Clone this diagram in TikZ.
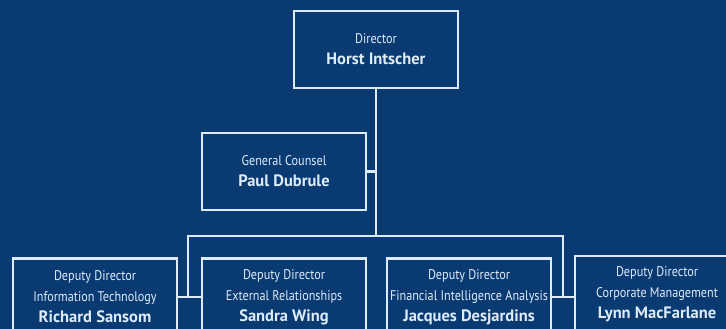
\documentclass[tikz,border=0pt]{standalone}
\usepackage{fontspec}
\setmainfont{PT Sans}
\usetikzlibrary{positioning, calc}
\definecolor{chartblue}{RGB}{10, 58, 114}
\definecolor{chartline}{RGB}{222, 236, 250}

\begin{document}
\begin{tikzpicture}[x=1pt, y=-1pt]
            \tikzstyle{post} = [rectangle, draw=chartline, line width=2.6pt, fill=chartblue, text=chartline, minimum width=164pt, minimum height=77pt, align=center, inner sep=0pt, font=\fontsize{14}{21}\selectfont]
            \tikzstyle{link} = [draw=chartline, line width=2.6pt]
            \newcommand{\role}[1]{\scalebox{0.87}[1]{#1}}
            \newcommand{\who}[1]{{\fontsize{16.5}{21}\selectfont\bfseries #1}}

            \fill[chartblue] (0,0) rectangle (726,329);
            \useasboundingbox (0,0) rectangle (726,329);
            \clip (0,0) rectangle (726,329);

            \node[post] (director) at (376,49.5) {\role{Director}\\\who{Horst Intscher}};
            \node[post] (counsel) at (284,171.5) {\role{General Counsel}\\\who{Paul Dubrule}};
            \node[post] (itdir) at (95,297) {\role{Deputy Director}\\\role{Information Technology}\\\who{Richard Sansom}};
            \node[post] (extdir) at (284,297) {\role{Deputy Director}\\\role{External Relationships}\\\who{Sandra Wing}};
            \node[post] (fiadir) at (469,297) {\role{Deputy Director}\\\role{Financial Intelligence Analysis}\\\who{Jacques Desjardins}};
            \node[post] (corpdir) at (657,294.5) {\role{Deputy Director}\\\role{Corporate Management}\\\who{Lynn MacFarlane}};

            \coordinate (barleft) at (188,236);
            \coordinate (barright) at (563,236);

            \draw[link] (director.south) -- (director.south |- barleft);
            \draw[link] (counsel.east) -- (counsel.east -| director.south);
            \draw[link] (barleft |- itdir.east) -- (barleft) -- (barright) -- (barright |- fiadir.east);
            \draw[link] (itdir.east) -- (extdir.west);
            \draw[link] (fiadir.east) -- (fiadir.east -| corpdir.west);
        \end{tikzpicture}
\end{document}
